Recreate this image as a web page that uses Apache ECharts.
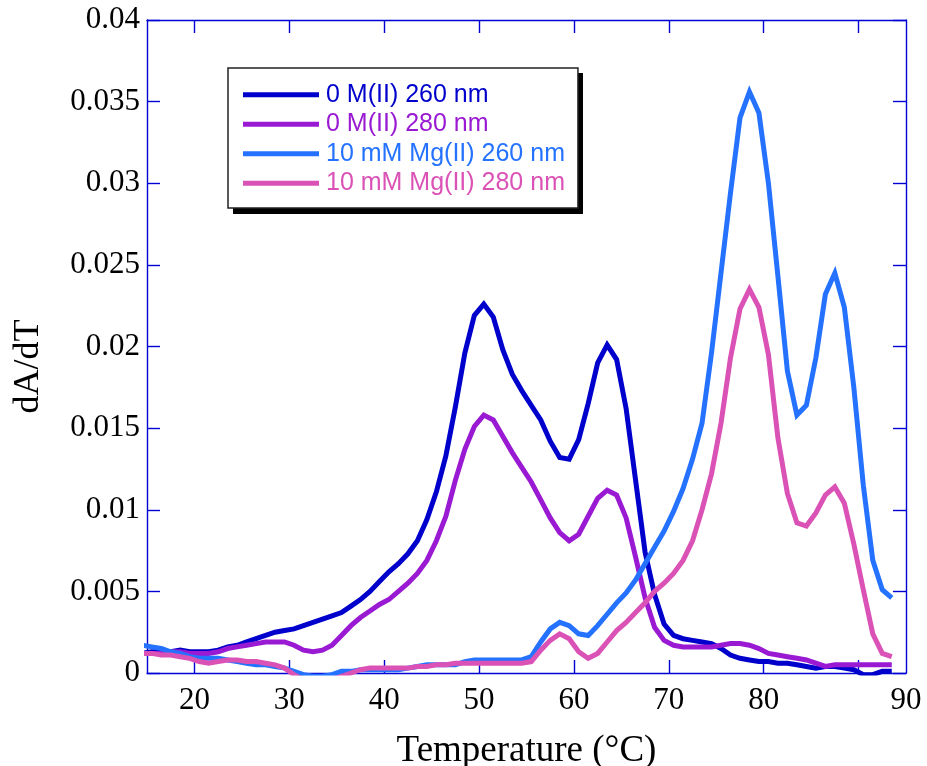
<!DOCTYPE html>
<html>
<head>
<meta charset="utf-8">
<script src="https://cdn.jsdelivr.net/npm/echarts@6/dist/echarts.min.js"></script>
<style>
html,body{margin:0;padding:0;background:#fff;}
#chart{width:927px;height:766px;}
</style>
</head>
<body>
<div id="chart"></div>
<script>
// Temperature grid (°C)
const temps = [14.5,15.5,16.5,17.5,18.5,19.5,20.5,21.5,22.5,23.5,24.5,25.5,26.5,27.5,28.5,29.5,30.5,31.5,32.5,33.5,34.5,35.5,36.5,37.5,38.5,39.5,40.5,41.5,42.5,43.5,44.5,45.5,46.5,47.5,48.5,49.5,50.5,51.5,52.5,53.5,54.5,55.5,56.5,57.5,58.5,59.5,60.5,61.5,62.5,63.5,64.5,65.5,66.5,67.5,68.5,69.5,70.5,71.5,72.5,73.5,74.5,75.5,76.5,77.5,78.5,79.5,80.5,81.5,82.5,83.5,84.5,85.5,86.5,87.5,88.5,89.5,90.5,91.5,92.5,93.5];

// 0 M(II) 260 nm
const m0_260 = [0.0012,0.0013,0.0013,0.0013,0.0014,0.0013,0.0013,0.0013,0.0014,0.0016,0.0017,0.0019,0.0021,0.0023,0.0025,0.0026,0.0027,0.0029,0.0031,0.0033,0.0035,0.0037,0.0041,0.0045,0.0050,0.0056,0.0062,0.0067,0.0073,0.0081,0.0094,0.0111,0.0133,0.0163,0.0196,0.0219,0.0226,0.0218,0.0198,0.0183,0.0173,0.0164,0.0155,0.0142,0.0132,0.0131,0.0143,0.0165,0.0190,0.0201,0.0192,0.0162,0.0118,0.0074,0.0048,0.0030,0.0023,0.0021,0.0020,0.0019,0.0018,0.0015,0.0011,0.0009,0.0008,0.0007,0.0007,0.0006,0.0006,0.0005,0.0004,0.0003,0.0004,0.0004,0.0003,0.0002,-0.0001,-0.0001,0.0001,0.0001];

// 0 M(II) 280 nm
const m0_280 = [0.0012,0.0012,0.0012,0.0013,0.0013,0.0012,0.0012,0.0012,0.0013,0.0015,0.0016,0.0017,0.0018,0.0019,0.0019,0.0019,0.0017,0.0014,0.0013,0.0014,0.0017,0.0023,0.0029,0.0034,0.0038,0.0042,0.0045,0.0050,0.0055,0.0061,0.0069,0.0081,0.0096,0.0118,0.0137,0.0151,0.0158,0.0155,0.0145,0.0135,0.0126,0.0117,0.0106,0.0095,0.0086,0.0081,0.0085,0.0096,0.0107,0.0112,0.0109,0.0095,0.0071,0.0046,0.0028,0.0020,0.0017,0.0016,0.0016,0.0016,0.0016,0.0017,0.0018,0.0018,0.0017,0.0015,0.0012,0.0011,0.0010,0.0009,0.0008,0.0006,0.0004,0.0005,0.0005,0.0005,0.0005,0.0005,0.0005,0.0005];

// 10 mM Mg(II) 260 nm
const mg_260 = [0.0017,0.0016,0.0015,0.0013,0.0012,0.0010,0.0009,0.0009,0.0009,0.0008,0.0007,0.0006,0.0005,0.0005,0.0004,0.0003,0.0001,-0.0001,-0.0002,-0.0002,-0.0001,0.0001,0.0001,0.0002,0.0002,0.0002,0.0002,0.0002,0.0003,0.0004,0.0005,0.0005,0.0005,0.0005,0.0007,0.0008,0.0008,0.0008,0.0008,0.0008,0.0008,0.0010,0.0019,0.0027,0.0031,0.0029,0.0024,0.0023,0.0029,0.0036,0.0043,0.0049,0.0057,0.0067,0.0077,0.0087,0.0099,0.0113,0.0131,0.0153,0.0196,0.0245,0.0294,0.0340,0.0356,0.0343,0.0300,0.0243,0.0185,0.0158,0.0164,0.0193,0.0232,0.0245,0.0224,0.0175,0.0115,0.0069,0.0051,0.0046];

// 10 mM Mg(II) 280 nm
const mg_280 = [0.0012,0.0012,0.0011,0.0011,0.0010,0.0009,0.0007,0.0006,0.0007,0.0008,0.0008,0.0007,0.0007,0.0006,0.0005,0.0003,-0.0001,-0.0004,-0.0005,-0.0005,-0.0004,-0.0002,0.0000,0.0002,0.0003,0.0003,0.0003,0.0003,0.0003,0.0004,0.0004,0.0005,0.0005,0.0006,0.0006,0.0006,0.0006,0.0006,0.0006,0.0006,0.0006,0.0007,0.0014,0.0020,0.0024,0.0021,0.0013,0.0009,0.0012,0.0019,0.0026,0.0031,0.0037,0.0043,0.0050,0.0055,0.0061,0.0069,0.0081,0.0100,0.0122,0.0153,0.0193,0.0223,0.0235,0.0224,0.0195,0.0144,0.0110,0.0092,0.0090,0.0098,0.0109,0.0114,0.0104,0.0079,0.0051,0.0024,0.0012,0.0010];

const seriesNames = ['0 M(II) 260 nm','0 M(II) 280 nm','10 mM Mg(II) 260 nm','10 mM Mg(II) 280 nm'];
const seriesColors = ['#0000CC','#9A1AD3','#2472FF','#DB52B6'];
const seriesValues = [m0_260, m0_280, mg_260, mg_280];

// Axis ticks / labels
const xTickValues = [20,30,40,50,60,70,80,90];
const xLabelValues = [20,30,40,50,60,70,80,95];
const xLabelTexts = ['20','30','40','50','60','70','80','90'];
const yTickLabels = ['0','0.005','0.01','0.015','0.02','0.025','0.03','0.035','0.04'];

const AX = '#0000D4';
const serif = '"Liberation Serif","Times New Roman",serif';
const sans = '"Liberation Sans",Arial,Helvetica,sans-serif';

const chart = echarts.init(document.getElementById('chart'), null, {renderer:'canvas'});

const axisLine = {show:true, onZero:false, lineStyle:{color:AX, width:1.4}};
const tickStyle = {color:AX, width:1.4};

const option = {
  animation:false,
  backgroundColor:'#fff',
  grid:{left:147, top:20, right:21, bottom:93, containLabel:false, outerBoundsMode:'none'},
  graphic:[
    {type:'rect', left:233, top:73, z:1, silent:true,
     shape:{width:350, height:141}, style:{fill:'#000'}}
  ],
  legend:{
    orient:'vertical', left:228, top:68, z:5,
    padding:[12,13,10,15],
    itemWidth:76, itemHeight:5, itemGap:0, icon:'rect',
    backgroundColor:'#fff', borderColor:'#222', borderWidth:1.5,
    textStyle:{fontFamily:sans, fontSize:25, lineHeight:29.5, padding:[0,0,0,2]},
    data: seriesNames.map((n,i)=>({name:n, textStyle:{color:seriesColors[i]}, itemStyle:{color:seriesColors[i]}}))
  },
  xAxis:[
    {type:'value', position:'bottom', min:15, max:95,
     axisLine:axisLine,
     axisTick:{show:true, inside:true, length:13, customValues:xTickValues, lineStyle:tickStyle},
     axisLabel:{show:true, customValues:xLabelValues, margin:12, color:'#000', fontFamily:serif, fontSize:31,
       formatter:function(v){const i=xLabelValues.indexOf(v); return i>=0?xLabelTexts[i]:'';}},
     splitLine:{show:false},
     name:'Temperature (°C)', nameLocation:'middle', nameGap:60,
     nameTextStyle:{color:'#000', fontFamily:serif, fontSize:37}},
    {type:'value', position:'top', min:15, max:95,
     axisLine:axisLine,
     axisTick:{show:true, inside:true, length:13, customValues:xTickValues, lineStyle:tickStyle},
     axisLabel:{show:false}, splitLine:{show:false}}
  ],
  yAxis:[
    {type:'value', position:'left', min:0, max:0.04, interval:0.005,
     axisLine:axisLine,
     axisTick:{show:true, inside:true, length:13, lineStyle:tickStyle},
     axisLabel:{show:true, margin:7, color:'#000', fontFamily:serif, fontSize:31, padding:[0,0,0,0],
       formatter:function(v){return yTickLabels[Math.round(v/0.005)];}},
     splitLine:{show:false},
     name:'dA/dT', nameLocation:'middle', nameGap:100,
     nameTextStyle:{color:'#000', fontFamily:serif, fontSize:36, padding:[0,40,0,0]}},
    {type:'value', position:'right', min:0, max:0.04, interval:0.005,
     axisLine:axisLine,
     axisTick:{show:true, inside:true, length:13, lineStyle:tickStyle},
     axisLabel:{show:false}, splitLine:{show:false}}
  ],
  series: seriesNames.map((n,i)=>({
    name:n, type:'line', xAxisIndex:0, yAxisIndex:0,
    symbol:'none', showSymbol:false, clip:true,
    lineStyle:{color:seriesColors[i], width:5, join:'miter'},
    itemStyle:{color:seriesColors[i]},
    data: temps.map((t,k)=>[t, seriesValues[i][k]])
  }))
};
chart.setOption(option);
</script>
</body>
</html>
